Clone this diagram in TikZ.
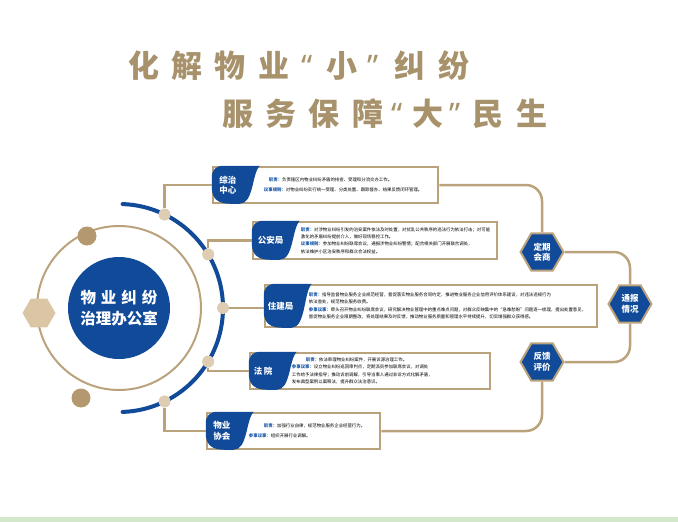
\documentclass[tikz,border=0pt]{standalone}
\usepackage{fontspec}
\setmainfont{Noto Sans CJK SC}
\newfontfamily\quotefont{Noto Sans}
\usetikzlibrary{positioning,shapes.geometric}

\definecolor{tanline}{RGB}{186,163,124}
\definecolor{titletan}{RGB}{168,146,108}
\definecolor{navy}{RGB}{16,74,152}
\definecolor{dotdark}{RGB}{180,152,112}
\definecolor{dotlight}{RGB}{222,205,178}
\definecolor{hexlight}{RGB}{218,198,165}
\definecolor{stripgreen}{RGB}{211,232,203}
\definecolor{labelblue}{RGB}{30,90,170}

\tikzset{
  title/.style={anchor=west, inner sep=0pt, text=titletan,
    font=\fontsize{31}{31}\selectfont\bfseries\addfontfeatures{LetterSpace=40}},
  office/.style={circle, fill=navy, minimum size=102pt, inner sep=0pt, text=white,
    align=center, font=\fontsize{15.5}{21}\selectfont\bfseries},
  ring/.style={draw=tanline, line width=2pt},
  bluearc/.style={draw=navy, line width=4pt, line cap=round},
  bigdot/.style={circle, fill=dotdark, minimum size=19pt, inner sep=0pt},
  smalldot/.style={circle, fill=dotlight, minimum size=12pt, inner sep=0pt},
  leftgem/.style={regular polygon, regular polygon sides=6, fill=hexlight, minimum size=33pt, inner sep=0pt},
  hexa/.style={regular polygon, regular polygon sides=6, minimum size=43pt, inner sep=0pt,
    fill=navy, draw=tanline, line width=2pt, text=white, align=center,
    font=\fontsize{8.5}{10.5}\selectfont\bfseries},
  box/.style={rectangle, draw=tanline, line width=2.5pt, fill=white, inner sep=0pt},
  link/.style={draw=tanline, line width=2.5pt},
  tabfill/.style={fill=navy},
  tabtext/.style={text=white, inner sep=0pt, align=center, font=\fontsize{8.5}{10.5}\selectfont\bfseries},
  desc/.style={inner sep=0pt, align=left, font=\fontsize{4.4}{7.4}\selectfont},
}

\begin{document}
\begin{tikzpicture}[x=1pt,y=-1pt]
\useasboundingbox (0,0) rectangle (678,522);
\fill[stripgreen] (0,517) rectangle (678,522);

% title
\node[title] (t1) at (128,66) {化解物业\hspace{12pt}{\quotefont\bfseries “}\hspace{14pt}小\hspace{10pt}{\quotefont\bfseries ”}\hspace{16pt}纠纷};
\node[title] (t2) at (222,114) {服务保障\hspace{8pt}{\quotefont\bfseries “}\hspace{10pt}大\hspace{6pt}{\quotefont\bfseries ”}\hspace{12pt}民生};

% centre
\draw[ring] (119,308) circle[radius=82];
\node[office] (office) at (119,308) {物\hspace{5pt}业\hspace{5pt}纠\hspace{5pt}纷\\治理办公室};
\node[bigdot] (b1) at (87,236) {};
\node[bigdot] (b2) at (81,398) {};
\node[leftgem] (gem) at (39,313) {};
\draw[bluearc] (office.center) ++(-88:104) arc[start angle=-88, end angle=88, radius=104];
\path (office.center) ++(-64:104) node[smalldot] (d1) {};
\path (office.center) ++(-31:104) node[smalldot] (d2) {};
\path (office.center) ++(0:104) node[smalldot] (d3) {};
\path (office.center) ++(31:104) node[smalldot] (d4) {};
\path (office.center) ++(64:104) node[smalldot] (d5) {};

% boxes
\node[box, minimum width=225pt, minimum height=36pt] (zongzhi) at (325.5,185) {};
\node[box, minimum width=244pt, minimum height=37pt] (gongan) at (375,240.5) {};
\node[box, minimum width=332pt, minimum height=42pt] (zhujian) at (431,306) {};
\node[box, minimum width=240pt, minimum height=36pt] (fayuan) at (370,371) {};
\node[box, minimum width=173pt, minimum height=36pt] (xiehui) at (293.5,431) {};

\foreach \b/\h in {zongzhi/38, gongan/39, zhujian/44, fayuan/38, xiehui/38}
  \fill[tabfill, shift={(\b.north west)}] (48,0) -- (12,0) .. controls (4,0) and (0,4) .. (0,12)
    -- (0,\h-16) .. controls (0,\h-4) and (8,\h) .. (18,\h) -- (28,\h)
    .. controls (42,\h) and (40,8) .. (48,0) -- cycle;

\node[tabtext, right=7.5pt of zongzhi.west] {综治\\中心};
\node[tabtext, right=6pt of gongan.west] {公安局};
\node[tabtext, right=4pt of zhujian.west] {住建局};
\node[tabtext, right=5pt of fayuan.west] {法\,院};
\node[tabtext, right=7.5pt of xiehui.west] {物业\\协会};

\node[desc, right=52pt of zongzhi.west] {\hspace*{5pt}{\bfseries\color{labelblue}职责：}负责辖区内物业纠纷矛盾的排查、受理和分流交办工作。\\[2.6pt]
{\bfseries\color{labelblue}议事规则：}对物业纠纷实行统一受理、分类处置、跟踪督办、结果反馈闭环管理。};
\node[desc, right=49pt of gongan.west] {{\bfseries\color{labelblue}职责：}对涉物业纠纷引发的治安案件依法及时处置，对扰乱公共秩序的违法行为依法打击；对可能\\
激化的矛盾纠纷提前介入，做好现场稳控工作。\\
{\bfseries\color{labelblue}议事规则：}参加物业纠纷联席会议，通报涉物业纠纷警情；配合相关部门开展联合调处，\\
依法维护小区治安秩序和群众合法权益。};
\node[desc, right=45pt of zhujian.west] {{\bfseries\color{labelblue}职责：}指导监督物业服务企业规范经营，督促落实物业服务合同约定，推进物业服务企业信用评价体系建设，对违法违规行为\\
依法查处，规范物业服务收费。\\
{\bfseries\color{labelblue}参事议事：}牵头召开物业纠纷联席会议，研究解决物业管理中的重点难点问题，对群众反映集中的“急难愁盼”问题逐一梳理，提出处置意见，\\
督促物业服务企业限期整改，将处理结果及时反馈，推动物业服务质量和管理水平持续提升，切实增强群众获得感。};
\node[desc, right=43pt of fayuan.west] {\hspace*{14pt}{\bfseries\color{labelblue}职责：}依法审理物业纠纷案件，开展诉源治理工作。\\
{\bfseries\color{labelblue}参事议事：}设立物业纠纷巡回审判点，定期派员参加联席会议，对调处\\
工作给予法律指导；推动诉前调解，引导当事人通过非诉方式化解矛盾，\\
发布典型案例以案释法，提升群众法治意识。};
\node[desc, right=43pt of xiehui.west] {\hspace*{15pt}{\bfseries\color{labelblue}职责：}加强行业自律，规范物业服务企业经营行为。\\[2.6pt]
{\bfseries\color{labelblue}参事议事：}组织开展行业调解。};

% hexagons on the right
\node[hexa] (huishang) at (542,252) {定期\\会商};
\node[hexa] (tongbao) at (630,304) {通报\\情况};
\node[hexa] (fankui) at (542,362) {反馈\\评价};

% links
\draw[link] (d1) |- (zongzhi.west);
\draw[link] (d2) |- (gongan.west);
\draw[link] (d3) -- (d3 -| zhujian.west);
\draw[link] (d4) |- (fayuan.west);
\draw[link] (d5) |- (xiehui.west);
\draw[link, rounded corners=16] (zongzhi.east) -| (huishang.north);
\draw[link, rounded corners=16] (huishang.east) -| (tongbao.north);
\draw[link, rounded corners=16] (tongbao.south) |- (fankui.east);
\draw[link, rounded corners=16] (fankui.south) |- (xiehui.east);
\end{tikzpicture}
\end{document}
